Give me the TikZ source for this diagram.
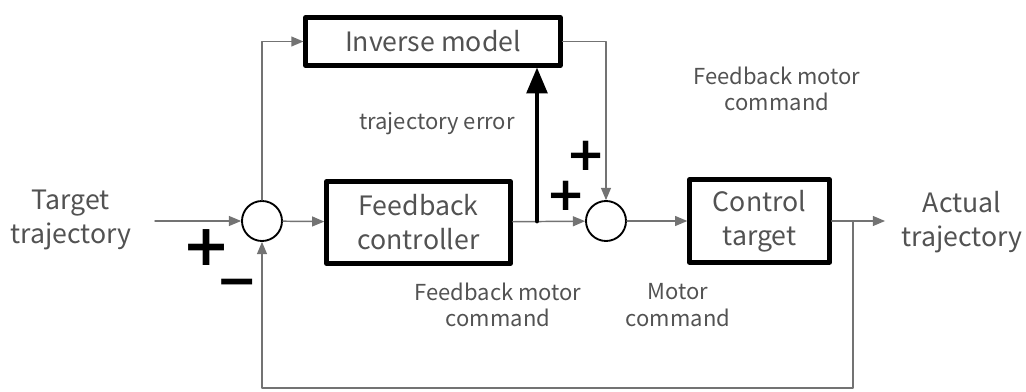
\documentclass[tikz,border=0pt]{standalone}
\usepackage{fontspec}
\setmainfont{Noto Sans CJK JP}
\newfontfamily\signfont{DejaVu Sans}
\usetikzlibrary{arrows}

\tikzset{
  block/.style={draw=black, line width=3.4pt, align=center, inner sep=0pt,
    text=black!68, font=\fontsize{20}{25.5}\selectfont},
  sumnode/.style={circle, draw=black, line width=1.4pt, minimum size=30pt, inner sep=0pt},
  signal/.style={draw=black!55, line width=1.1pt},
  errarrow/.style={draw=black, line width=3.6pt},
  lbl/.style={text=black!68, align=center, font=\fontsize{16.5}{20}\selectfont},
  endlbl/.style={text=black!68, align=center, font=\fontsize{20}{25}\selectfont},
  sign/.style={inner sep=-1.5pt, text=black, font=\signfont\bfseries}
}

\begin{document}
\begin{tikzpicture}[line cap=round,line join=round,>=triangle 45,x=0.75pt,y=-0.75pt]
\useasboundingbox (0,0) rectangle (1026,392);

% blocks and summing points
\node[block, minimum width=191pt, minimum height=36pt] (inv) at (433,41.5) {Inverse model};
\node[block, minimum width=138pt, minimum height=61.5pt] (fbc) at (418.5,222.5) {Feedback\\controller};
\node[block, minimum width=105pt, minimum height=62pt] (plant) at (759.5,221) {Control\\target};
\node[sumnode] (sumA) at (262,221) {};
\node[sumnode] (sumB) at (606,221) {};

% signal lines
\coordinate (src) at (155,221);
\coordinate (dst) at (885,221);
\coordinate (tap) at (853,221);
\coordinate (err) at (537,221);
\draw[signal,->] (src) -- (sumA);
\draw[signal,->] (sumA.north) |- (inv.west);
\draw[signal,->] (sumA) -- (fbc);
\draw[signal,->] (fbc) -- (sumB);
\draw[signal,->] (inv.east) -| (sumB.north);
\draw[signal,->] (sumB) -- (plant);
\draw[signal,->] (plant) -- (dst);
\draw[signal,->] (tap) -- ++(0,167) -| (sumA.south);
\draw[errarrow,->] (err) -- (err |- inv.south);

% texts
\node[endlbl] (tgt) at (71,220) {Target\\trajectory};
\node[endlbl] (act) at (962,222) {Actual\\trajectory};
\node[lbl] (terr) at (437,124) {trajectory error};
\node[lbl] (fbcmd) at (498,305) {Feedback motor\\command};
\node[lbl] (mcmd) at (678,305) {Motor\\command};
\node[lbl] (ffcmd) at (777,89) {Feedback motor\\command};

% signs
\node[sign, font=\signfont\bfseries\fontsize{43}{43}\selectfont] (pA) at (207,248) {+};
\node[sign, font=\signfont\bfseries\fontsize{37}{37}\selectfont] (mA) at (237,288) {−};
\node[sign, font=\signfont\bfseries\fontsize{35}{35}\selectfont] (pB) at (566,196) {+};
\node[sign, font=\signfont\bfseries\fontsize{35}{35}\selectfont] (pC) at (586,156) {+};
\end{tikzpicture}
\end{document}
